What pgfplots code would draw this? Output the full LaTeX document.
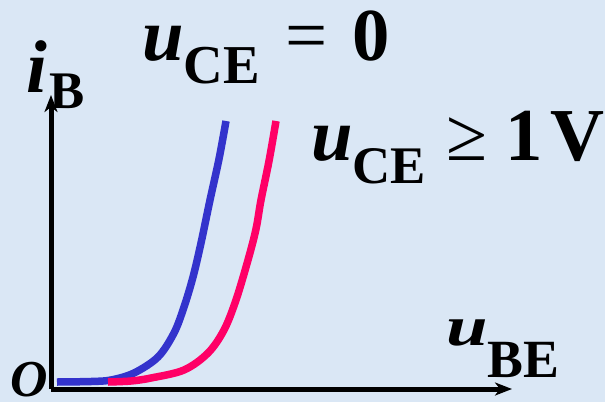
\documentclass[border=0pt]{standalone}
\usepackage{pgfplots}
\pgfplotsset{compat=1.18}
\usepackage{fontspec}
\setmainfont{Liberation Serif}[
  BoldFont={Liberation Serif Bold},
  ItalicFont={Liberation Serif Italic},
  BoldItalicFont={Liberation Serif Bold Italic}]
\usetikzlibrary{arrows.meta}

\definecolor{bgblue}{RGB}{218,231,245}
\definecolor{curveblue}{RGB}{51,51,204}
\definecolor{curvepink}{RGB}{255,0,102}

\newcommand{\mainsz}[1]{{\fontsize{75}{75}\selectfont #1}}
\newcommand{\subsz}[1]{{\fontsize{55}{55}\selectfont\bfseries #1}}

\begin{document}
\begin{tikzpicture}[x=1bp,y=1bp]
  % page background
  \fill[bgblue] (0,0) rectangle (605,402);

  \begin{axis}[
      at={(51bp,13bp)}, anchor=origin,
      scale only axis, width=461bp, height=294bp,
      xmin=0, xmax=461, ymin=0, ymax=294,
      axis lines*=left,
      axis line style={line width=5bp, -{Stealth[length=17bp,width=13bp,inset=5bp]}},
      xtick=\empty, ytick=\empty,
      clip=false,
    ]
    % input characteristic, u_CE = 0
    \addplot[curveblue, line width=7.5bp, line cap=butt, smooth, tension=0.55, no markers]
      coordinates {(6,7) (40,7.5) (60,9) (83,16) (107,32) (123,56) (133,82) (142,112) (150,146) (159,189) (168,230) (175,268)};
    % input characteristic, u_CE >= 1 V
    \addplot[curvepink, line width=7.5bp, line cap=butt, smooth, tension=0.55, no markers]
      coordinates {(57,7) (80,8) (100,11) (133,19) (157,36) (173,59) (185,89) (197,129) (205,160) (210,189) (218,228) (225,268)};
  \end{axis}

  % labels
  \node[anchor=base west, inner sep=0pt] at (142,342)
    {\mainsz{\bfseries\itshape u}\raisebox{-23bp}{\subsz{CE}}\hspace{26bp}\mainsz{=}\hspace{24bp}\mainsz{\bfseries 0}};
  \node[anchor=base west, inner sep=0pt] at (26,310)
    {\mainsz{\bfseries\itshape i}\hspace{3bp}\raisebox{-16bp}{{\fontsize{53}{53}\selectfont\bfseries B}}};
  \node[anchor=base west, inner sep=0pt] at (311,242)
    {\mainsz{\bfseries\itshape u}\raisebox{-23bp}{{\fontsize{53}{53}\selectfont\bfseries CE}}\hspace{20bp}\mainsz{≥}\hspace{18bp}\mainsz{\bfseries 1\hspace{8bp}V}};
  \node[anchor=base west, inner sep=0pt] at (446,57)
    {\scalebox{1}[0.75]{\mainsz{\bfseries\itshape u}}\raisebox{-32bp}{{\fontsize{54}{54}\selectfont\bfseries BE}}};
  \node[anchor=base west, inner sep=0pt] at (10,6)
    {{\fontsize{52}{52}\selectfont\bfseries\itshape O}};

  \pgfresetboundingbox
  \useasboundingbox (0,0) rectangle (605,402);
\end{tikzpicture}
\end{document}
